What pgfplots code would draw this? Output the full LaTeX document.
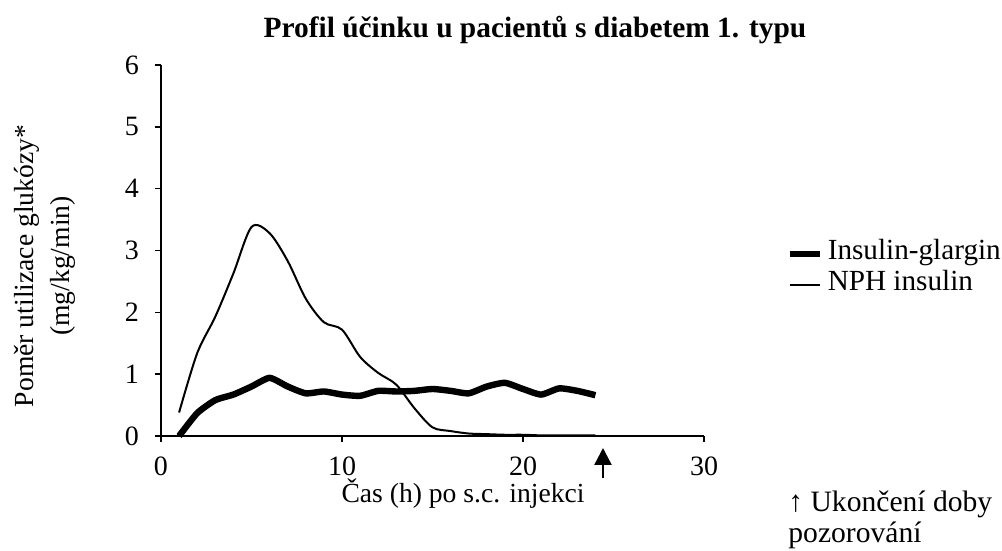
\documentclass[border=0pt]{standalone}
\usepackage{fontspec}
\setmainfont{Liberation Serif}
\usepackage{pgfplots}
\pgfplotsset{compat=1.18}
\usetikzlibrary{arrows.meta}
\begin{document}
\begin{tikzpicture}
\useasboundingbox (-80.5pt,-57.5pt) rectangle (420.5pt,218pt);
\begin{axis}[
  at={(0pt,0pt)}, anchor=south west,
  scale only axis, width=271.5pt, height=185.5pt,
  xmin=0, xmax=30, ymin=0, ymax=6,
  xtick={0,10,20,30}, ytick={0,1,2,3,4,5,6},
  axis x line*=bottom, axis y line*=left,
  tick align=outside, major tick length=3pt,
  axis line style={line width=0.75pt, black},
  tick style={line width=0.75pt, black},
  /pgf/number format/assume math mode=true,
  ticklabel style={font=\fontsize{14}{16}\selectfont},
  xticklabel style={yshift=-4pt},
  yticklabel style={xshift=-4.5pt},
  clip=false,
  legend style={at={(1.151,0.457)}, anchor=west, draw=none, fill=none,
    inner sep=0pt, font=\fontsize{14.6}{17}\selectfont,
    nodes={inner sep=0pt, anchor=base west}, row sep=4pt, column sep=2.5pt},
  legend cell align=left,
  legend image code/.code={\draw[#1] (0pt,0.6ex) -- (15pt,0.6ex);},
]
\addplot[black, line width=3.2pt, smooth, tension=0.35] coordinates {
(1,0) (2,0.37) (3,0.58) (4,0.67) (5,0.8) (6,0.94) (7,0.8) (8,0.69) (9,0.72)
(10,0.67) (11,0.65) (12,0.73) (13,0.72) (14,0.73) (15,0.76) (16,0.73) (17,0.69)
(18,0.8) (19,0.86) (20,0.76) (21,0.67) (22,0.77) (23,0.73) (24,0.66)};
\addlegendentry{Insulin-glargin}
\addplot[black, line width=1pt, smooth, tension=0.5] coordinates {
(1,0.38) (2,1.34) (3,1.93) (4,2.63) (5,3.38) (6,3.28) (7,2.83) (8,2.22) (9,1.84)
(10,1.72) (11,1.28) (12,1.02) (13,0.83) (14,0.45) (15,0.14) (16,0.08) (17,0.04)
(18,0.03) (19,0.02) (20,0.02) (21,0.01) (22,0.01) (23,0.01) (24,0.01)};
\addlegendentry{NPH insulin}
\end{axis}
\node[font=\bfseries\fontsize{14.7}{17}\selectfont] at (187pt,203pt) {Profil účinku u pacientů s diabetem 1. typu};
\node[font=\fontsize{13.8}{16}\selectfont] at (151pt,-29pt) {Čas (h) po s.c. injekci};
\node[rotate=90, align=center, font=\fontsize{13.8}{18}\selectfont] at (-58pt,85pt) {Poměr utilizace glukózy*\\(mg/kg/min)};
\draw[line width=1.2pt, -{Triangle[width=8.5pt,length=8.5pt]}] (221pt,-21pt) -- (221pt,-6pt);
\node[anchor=base west, inner sep=0pt, font=\fontsize{14.8}{16}\selectfont] at (313.5pt,-37.8pt) {↑ Ukončení doby};
\node[anchor=base west, inner sep=0pt, font=\fontsize{14.8}{16}\selectfont] at (313.5pt,-53.5pt) {pozorování};
\end{tikzpicture}
\end{document}
